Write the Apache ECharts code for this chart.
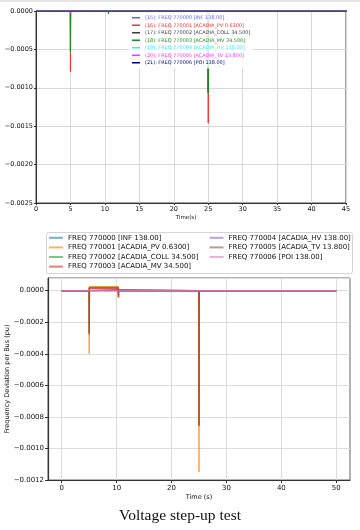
<!DOCTYPE html>
<html><head><meta charset="utf-8">
<script src="https://cdn.jsdelivr.net/npm/echarts@6/dist/echarts.min.js"></script>
<style>html,body{margin:0;padding:0;background:#fff}#c{width:360px;height:530px}</style>
</head><body><div id="c"></div>
<script>
// ---- Top chart (PSS/E style) ----
const topNames = ['(15): FREQ 770000 [INF 138.00]','(16): FREQ 770001 [ACADIA_PV 0.6300]','(17): FREQ 770002 [ACADIA_COLL 34.500]','(18): FREQ 770003 [ACADIA_MV 34.500]','(19): FREQ 770004 [ACADIA_HV 138.00]','(20): FREQ 770005 [ACADIA_TV 13.800]','(21): FREQ 770006 [POI 138.00]'];
const topColors = ['#5f5fff','#ff2a2a','#3a3a3a','#1f8a1f','#33f0f0','#ff33ff','#000080'];
const tTop = [0, 4.98, 5.0, 5.03, 10.5, 10.52, 10.55, 24.98, 25.0, 25.03, 50];
const top15 = [0, 0, -0.00001, 0, 0, 0, 0, 0, -0.00002, 0, 0];
const top16 = [0, 0, -0.00079, 0, 0, -0.00004, 0, 0, -0.00146, 0, 0];
const top17 = [0, 0, -0.00052, 0, 0, -0.00003, 0, 0, -0.00105, 0, 0];
const top18 = [0, 0, -0.00054, 0, 0, -0.00003, 0, 0, -0.00107, 0, 0];
const top19 = [0, 0, -0.00001, 0, 0, 0, 0, 0, -0.00002, 0, 0];
const top20 = [0, 0, -0.00003, 0, 0, 0, 0, 0, -0.00003, 0, 0];
const top21 = [0, 0, 0, 0, 0, 0, 0, 0, 0, 0, 0];
const topSeries = [top15, top16, top17, top18, top19, top20, top21];

// ---- Bottom chart (matplotlib style) ----
const botNames = ['FREQ 770000 [INF 138.00]','FREQ 770001 [ACADIA_PV 0.6300]','FREQ 770002 [ACADIA_COLL 34.500]','FREQ 770003 [ACADIA_MV 34.500]','FREQ 770004 [ACADIA_HV 138.00]','FREQ 770005 [ACADIA_TV 13.800]','FREQ 770006 [POI 138.00]'];
const botColors = ['#1f77b4','#ff7f0e','#2ca02c','#d62728','#9467bd','#8c564b','#e377c2'];
const tBot = [0, 4.98, 5.0, 5.03, 10.3, 10.33, 10.36, 24.98, 25.0, 25.03, 50];
const bot0 = [0, 0, -0.00001, 0.000005, 0.000005, 0, 0, 0, -0.00002, 0, 0];
const bot1 = [0, 0, -0.00040, 0.000025, 0.000025, -0.000045, 0, 0, -0.00115, 0, 0];
const bot2 = [0, 0, -0.00028, 0.00002, 0.00002, -0.00003, 0, 0, -0.00085, 0, 0];
const bot3 = [0, 0, -0.00027, 0.000015, 0.000015, -0.00004, 0, 0, -0.00086, 0, 0];
const bot4 = [0, 0, -0.00001, 0.000003, 0.000003, 0, 0, 0, -0.00002, 0, 0];
const bot5 = [0, 0, -0.00001, 0.000003, 0.000003, 0, 0, 0, -0.00003, 0, 0];
const bot6 = [0, 0, 0, 0, 0, 0, 0, 0, 0, 0, 0];
const botSeries = [bot0, bot1, bot2, bot3, bot4, bot5, bot6];
const botXTicks = [0, 10, 20, 30, 40, 50];

const caption = 'Voltage step-up test';

function hexA(h, a) {
  const r = parseInt(h.slice(1,3),16), g = parseInt(h.slice(3,5),16), b = parseInt(h.slice(5,7),16);
  return 'rgba(' + r + ',' + g + ',' + b + ',' + a + ')';
}
function fmtY(v) {
  if (v > 0.000001) return '';
  if (Math.abs(v) < 1e-9) return '0.0000';
  return '\u2212' + Math.abs(v).toFixed(4);
}
function fmtX10(v) {
  const r = Math.round(v);
  return (Math.abs(v - r) < 1e-6 && r % 10 === 0 && r >= 0 && r <= 50) ? String(r) : '';
}
const FONT = 'DejaVu Sans';

const series = [];
topSeries.forEach((vals, i) => {
  series.push({
    name: topNames[i], type: 'line', xAxisIndex: 0, yAxisIndex: 0,
    data: tTop.map((t, k) => [t, vals[k]]),
    showSymbol: false, symbol: 'none', animation: false, clip: true,
    lineStyle: { color: topColors[i], width: 1 },
    itemStyle: { color: topColors[i] }
  });
});
botSeries.forEach((vals, i) => {
  series.push({
    name: botNames[i], type: 'line', xAxisIndex: 1, yAxisIndex: 1,
    data: tBot.map((t, k) => [t, vals[k]]),
    showSymbol: false, symbol: 'none', animation: false, clip: true,
    lineStyle: { color: hexA(botColors[i], 0.75), width: 1.5 },
    itemStyle: { color: hexA(botColors[i], 0.6) }
  });
});

const option = {
  backgroundColor: '#fff',
  animation: false,
  textStyle: { fontFamily: FONT },
  grid: [
    { left: 36, top: 11, width: 310, height: 192, show: true, borderColor: '#444', borderWidth: 1, containLabel: false, outerBoundsMode: 'none' },
    { left: 48, top: 278, width: 302, height: 202, show: true, borderColor: '#666', borderWidth: 1, containLabel: false, outerBoundsMode: 'none' }
  ],
  xAxis: [
    { type: 'value', gridIndex: 0, min: 0, max: 45, interval: 5,
      name: 'Time(s)', nameLocation: 'middle', nameGap: 12, nameMoveOverlap: false,
      nameTextStyle: { fontSize: 5.5, color: '#111', padding: [0, 10, 0, 0] },
      axisLine: { show: true, onZero: false, lineStyle: { color: '#333', width: 1 } },
      axisTick: { show: true, length: 2, lineStyle: { color: '#333' } },
      axisLabel: { fontSize: 6.5, color: '#111', margin: 3 },
      splitLine: { show: true, lineStyle: { color: '#d8d8d8', width: 1 } } },
    { type: 'value', gridIndex: 1, min: -2.5, max: 52.5, interval: 2.5,
      name: 'Time (s)', nameLocation: 'middle', nameGap: 14, nameMoveOverlap: false,
      nameTextStyle: { fontSize: 6.5, color: '#111' },
      axisLine: { show: true, onZero: false, lineStyle: { color: '#333', width: 1.2 } },
      axisTick: { show: true, length: 3, customValues: botXTicks, lineStyle: { color: '#333' } },
      axisLabel: { fontSize: 7, color: '#111', margin: 5, customValues: botXTicks, formatter: fmtX10 },
      splitLine: { show: true, lineStyle: { color: '#dcdcdc', width: 1 } } }
  ],
  yAxis: [
    { type: 'value', gridIndex: 0, min: -0.0025, max: 0, interval: 0.0005,
      axisLine: { show: true, onZero: false, lineStyle: { color: '#333', width: 1 } },
      axisTick: { show: true, length: 2, lineStyle: { color: '#333' } },
      axisLabel: { fontSize: 6.5, color: '#111', margin: 3, formatter: fmtY },
      splitLine: { show: true, lineStyle: { color: '#d8d8d8', width: 1 } } },
    { type: 'value', gridIndex: 1, min: -0.0012, max: 0.00008, interval: 0.0002,
      name: 'Frequency Deviation per Bus (pu)', nameLocation: 'middle', nameGap: 37, nameMoveOverlap: false,
      nameTextStyle: { fontSize: 6.5, color: '#111' },
      axisLine: { show: true, onZero: false, lineStyle: { color: '#333', width: 1.2 } },
      axisTick: { show: true, length: 3, lineStyle: { color: '#333' } },
      axisLabel: { fontSize: 7, color: '#111', margin: 4, formatter: fmtY, showMaxLabel: false },
      splitLine: { show: true, lineStyle: { color: '#dcdcdc', width: 1 } } }
  ],
  legend: [
    { orient: 'vertical', left: 129, top: 12, padding: [2, 3, 2, 3],
      backgroundColor: 'rgba(255,255,255,0.85)',
      icon: 'rect', itemWidth: 8, itemHeight: 1.5, itemGap: 0, itemTextGap: 2,
      textStyle: { fontSize: 4.95, lineHeight: 7.5, fontFamily: FONT },
      data: topNames.map((n, i) => ({ name: n, textStyle: { color: topColors[i] } })) },
    { orient: 'vertical', left: 49, top: 233, padding: 0,
      icon: 'rect', itemWidth: 14, itemHeight: 2, itemGap: 0, itemTextGap: 8,
      textStyle: { fontSize: 7, lineHeight: 9.6, color: '#111', fontFamily: FONT },
      data: botNames.slice(0, 4) },
    { orient: 'vertical', left: 209.5, top: 233, padding: 0,
      icon: 'rect', itemWidth: 14, itemHeight: 2, itemGap: 0, itemTextGap: 7,
      textStyle: { fontSize: 7, lineHeight: 9.6, color: '#111', fontFamily: FONT },
      data: botNames.slice(4) }
  ],
  graphic: [
    { type: 'rect', shape: { x: 0, y: 0, width: 360, height: 2 }, style: { fill: '#e6e6e6' }, silent: true },
    { type: 'rect', shape: { x: 46.5, y: 232.5, width: 306, height: 41, r: 2 },
      style: { fill: 'none', stroke: '#d4d4d4', lineWidth: 1 }, silent: true, z: -1 },
    { type: 'text', left: 'center', top: 508,
      style: { text: caption, font: '15.5px "Liberation Serif", "DejaVu Serif", serif', fill: '#111' } }
  ],
  series: series
};
const chart = echarts.init(document.getElementById('c'), null, { renderer: 'canvas' });
chart.setOption(option);
</script></body></html>
